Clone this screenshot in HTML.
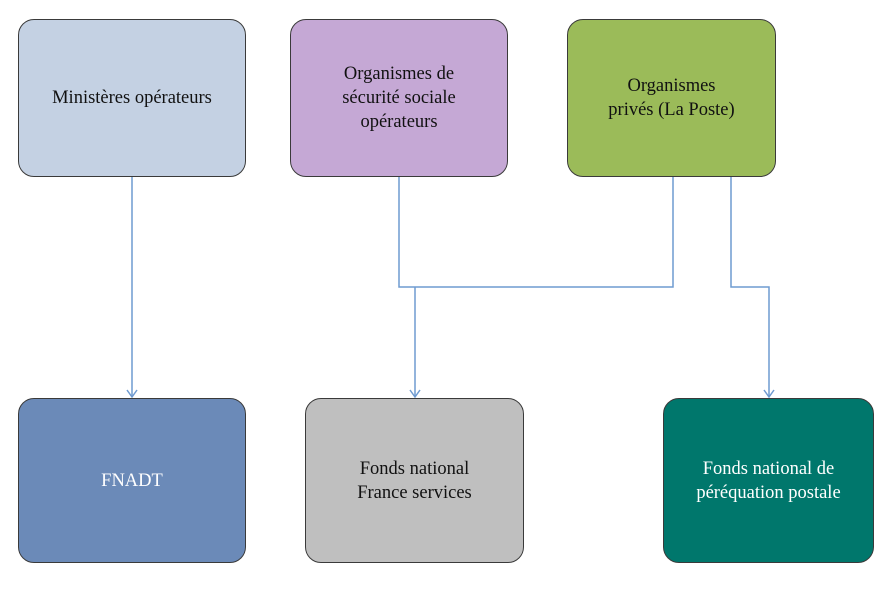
<!DOCTYPE html>
<html><head><meta charset="utf-8"><style>
body{margin:0;width:886px;height:589px;background:#fff;position:relative;overflow:hidden;font-family:"Liberation Serif",serif;}
.b{position:absolute;box-sizing:border-box;border:1.5px solid #3a3a3a;border-radius:16px;display:flex;align-items:center;justify-content:center;text-align:center;font-size:18.5px;line-height:24px;color:#111;}
svg{position:absolute;left:0;top:0;}
</style></head><body>
<svg width="886" height="589">
<g stroke="#6f9bd1" stroke-width="1.5" fill="none">
<path d="M132 177V397"/>
<path d="M399 177V287H673V177"/>
<path d="M415 287V397"/>
<path d="M731 177V287H769V397"/>
<path d="M127 390L132 397L137 390M410 390L415 397L420 390M764 390L769 397L774 390"/>
</g></svg>
<div class="b" style="left:18px;top:19px;width:228px;height:158px;background:#c4d1e3">Ministères opérateurs</div>
<div class="b" style="left:290px;top:19px;width:218px;height:158px;background:#c5a8d5">Organismes de<br>sécurité sociale<br>opérateurs</div>
<div class="b" style="left:567px;top:19px;width:209px;height:158px;background:#9bbb59">Organismes<br>privés (La Poste)</div>
<div class="b" style="left:18px;top:398px;width:228px;height:165px;background:#6b8ab8;color:#fff">FNADT</div>
<div class="b" style="left:305px;top:398px;width:219px;height:165px;background:#bfbfbf">Fonds national<br>France services</div>
<div class="b" style="left:663px;top:398px;width:211px;height:165px;background:#00776c;color:#fff">Fonds national de<br>péréquation postale</div>
</body></html>
